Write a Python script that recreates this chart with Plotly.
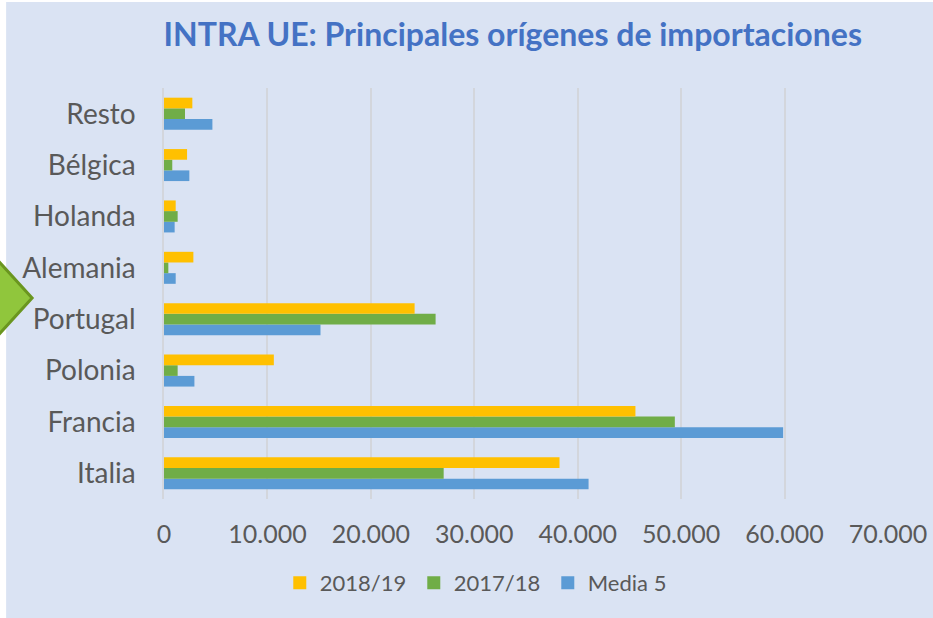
import plotly.graph_objects as go

categories = ["Italia", "Francia", "Polonia", "Portugal", "Alemania", "Holanda", "Bélgica", "Resto"]
media5 = [41050, 59860, 2940, 15130, 1130, 1030, 2450, 4680]
v2017_18 = [27040, 49390, 1320, 26260, 420, 1320, 800, 2030]
v2018_19 = [38240, 45580, 10620, 24230, 2840, 1130, 2230, 2740]
tick_vals = [0, 10000, 20000, 30000, 40000, 50000, 60000, 70000]
tick_text = ["0", "10.000", "20.000", "30.000", "40.000", "50.000", "60.000", "70.000"]

series = [
    ("2018/19", v2018_19, "#ffc000"),
    ("2017/18", v2017_18, "#70ad47"),
    ("Media 5", media5, "#5b9bd5"),
]

W, H = 933, 618
L, R, T, B = 164, 888.5, 88, 499
BG = "#dae3f3"
FONT = "Lato"

def px(x):
    return (x - L) / (R - L)

def py(y):
    return (B - y) / (B - T)

fig = go.Figure()
# bars: first trace sits lowest within each group
for name, vals, color in reversed(series):
    fig.add_trace(go.Bar(y=categories, x=vals, orientation="h", name=name,
                         marker=dict(color=color, line=dict(width=0)),
                         showlegend=False, legendgroup=name))
# legend entries with square symbols
for name, vals, color in series:
    fig.add_trace(go.Scatter(x=[None], y=[None], mode="markers", name=name,
                             marker=dict(symbol="square", size=13, color=color),
                             legendgroup=name, showlegend=True))

shapes = [
    dict(type="rect", xref="paper", yref="paper", x0=px(6), x1=px(W + 5), y0=py(2), y1=py(H + 5),
         fillcolor=BG, line=dict(width=0), layer="below"),
    dict(type="path", xref="paper", yref="paper",
         path=f"M {px(-20)} {py(241)} L {px(32)} {py(298)} L {px(-20)} {py(355)} Z",
         fillcolor="#90c63c", line=dict(color="#6a961f", width=3), layer="above"),
]

fig.update_layout(
    width=W, height=H,
    autosize=False,
    margin=dict(l=L, r=W - R, t=T, b=H - B, pad=0, autoexpand=False),
    paper_bgcolor="white",
    plot_bgcolor="rgba(0,0,0,0)",
    barmode="group",
    bargap=0.377,
    bargroupgap=0,
    title=dict(text="<b>INTRA UE: Principales orígenes de importaciones</b>",
               x=px(513), xref="paper", xanchor="center", y=1 - 35 / H, yanchor="middle",
               font=dict(family=FONT, size=32, color="#4472c4")),
    xaxis=dict(range=[0, 70000], tickvals=tick_vals, ticktext=tick_text,
               showgrid=True, gridcolor="#d3d6dc", gridwidth=1.5, zeroline=False,
               showline=False, ticks="", ticklabelstandoff=18, automargin=False,
               tickfont=dict(family=FONT, size=25, color="#595959")),
    yaxis=dict(categoryorder="array", categoryarray=categories, showgrid=False,
               showline=True, linecolor="#d3d6dc", linewidth=1.5, ticks="",
               ticklabelstandoff=21, automargin=False,
               tickfont=dict(family=FONT, size=28, color="#595959")),
    legend=dict(orientation="h", traceorder="normal", x=px(481), xanchor="center",
                y=py(583), yanchor="middle", font=dict(family=FONT, size=22, color="#595959"),
                bgcolor="rgba(0,0,0,0)", itemwidth=30, entrywidth=89),
    shapes=shapes,
    showlegend=True,
)

fig.write_html("out.html", config={"displayModeBar": False},
               post_script="document.body.style.margin='0px';")
